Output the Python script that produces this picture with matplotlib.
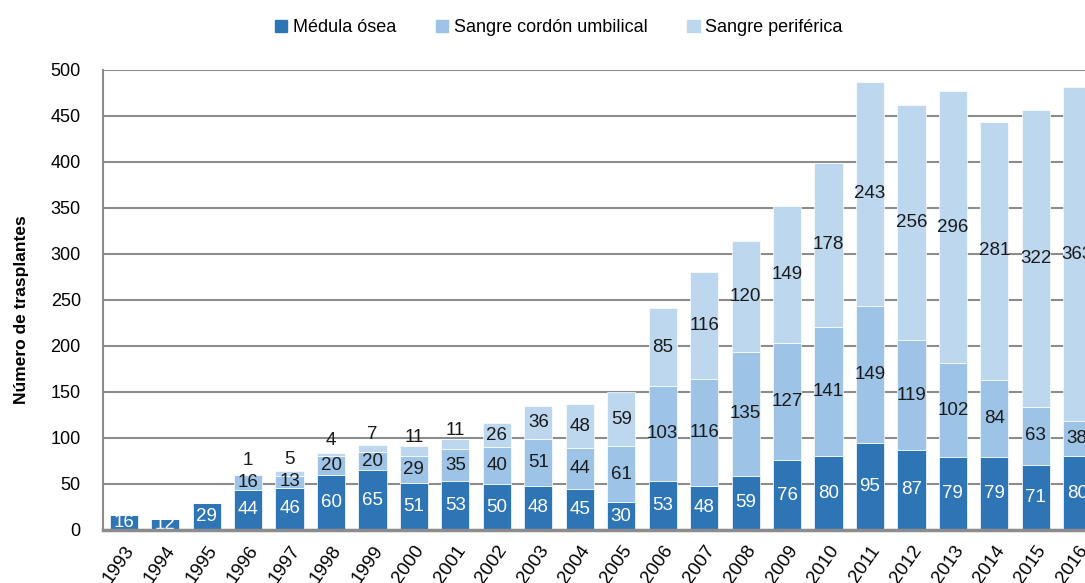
import numpy as np
import matplotlib.pyplot as plt
import matplotlib.transforms as mtransforms
from matplotlib.patches import Patch

plt.rcParams['font.family'] = ['Liberation Sans', 'DejaVu Sans']

# Datos
years = [str(y) for y in range(1993, 2017)]
medula = [16, 12, 29, 44, 46, 60, 65, 51, 53, 50, 48, 45, 30, 53, 48, 59, 76, 80, 95, 87, 79, 79, 71, 80]
cordon = [0, 0, 0, 16, 13, 20, 20, 29, 35, 40, 51, 44, 61, 103, 116, 135, 127, 141, 149, 119, 102, 84, 63, 38]
periferica = [0, 0, 0, 1, 5, 4, 7, 11, 11, 26, 36, 48, 59, 85, 116, 120, 149, 178, 243, 256, 296, 281, 322, 363]

c_med = '#2E75B6'
c_cor = '#9DC3E6'
c_per = '#BDD7EE'

fig = plt.figure(figsize=(10.85, 5.83), dpi=100)
ax = fig.add_axes([103 / 1085, 53 / 583, 995 / 1085, 460 / 583])

x = np.arange(len(years))
med = np.array(medula)
cor = np.array(cordon)
per = np.array(periferica)
w = 0.68

ax.bar(x, med, w, color=c_med, edgecolor='white', linewidth=0.5, zorder=2)
ax.bar(x, cor, w, bottom=med, color=c_cor, edgecolor='white', linewidth=0.5, zorder=2)
ax.bar(x, per, w, bottom=med + cor, color=c_per, edgecolor='white', linewidth=0.5, zorder=2)

# etiquetas de valores
fs = 13.5
for i in range(len(years)):
    ax.text(x[i], med[i] / 2, str(med[i]), ha='center', va='center',
            color='white', fontsize=fs, zorder=3)
    if cor[i] > 0:
        ax.text(x[i], med[i] + cor[i] / 2, str(cor[i]), ha='center', va='center',
                color='#1a1a1a', fontsize=fs, zorder=3)
    if per[i] > 0:
        yc = med[i] + cor[i] + per[i] / 2
        if per[i] < 15:
            yc += 15
        ax.text(x[i], yc, str(per[i]), ha='center', va='center',
                color='#1a1a1a', fontsize=fs, zorder=3)

ax.set_xlim(-0.5, len(years) - 0.5)
ax.set_ylim(0, 500)
ax.set_yticks(range(0, 501, 50))
ax.set_xticks(x)
ax.set_xticklabels(years, rotation=55, ha='right', va='top', rotation_mode='anchor',
                   fontsize=13.5)
shift = mtransforms.ScaledTranslation(8 / 100, 0, fig.dpi_scale_trans)
for lab in ax.get_xticklabels():
    lab.set_transform(lab.get_transform() + shift)
for lab in ax.get_yticklabels():
    lab.set_fontsize(13)
ax.tick_params(axis='both', length=0)
ax.tick_params(axis='y', pad=16)
ax.tick_params(axis='x', pad=9)

ax.grid(axis='y', color='#8c8c8c', linewidth=1.5, zorder=0)
ax.set_axisbelow(True)
for s in ['top', 'right']:
    ax.spines[s].set_visible(False)
ax.spines['left'].set_color('#8c8c8c')
ax.spines['left'].set_linewidth(1.5)
ax.spines['bottom'].set_color('#8c8c8c')
ax.spines['bottom'].set_linewidth(2.5)
ax.spines['bottom'].set_zorder(4)

ax.set_ylabel('Número de trasplantes', fontsize=12.5, fontweight='bold')
ax.yaxis.set_label_coords(-0.074, 0.48)

handles = [Patch(color=c_med), Patch(color=c_cor), Patch(color=c_per)]
fig.legend(handles, ['Médula ósea', 'Sangre cordón umbilical', 'Sangre periférica'],
           loc='upper center', bbox_to_anchor=(0.515, 0.995), ncol=3, frameon=False,
           fontsize=13, handlelength=0.7, handleheight=0.7, handletextpad=0.3,
           columnspacing=2.2)

fig.savefig('out.png', dpi=100)
